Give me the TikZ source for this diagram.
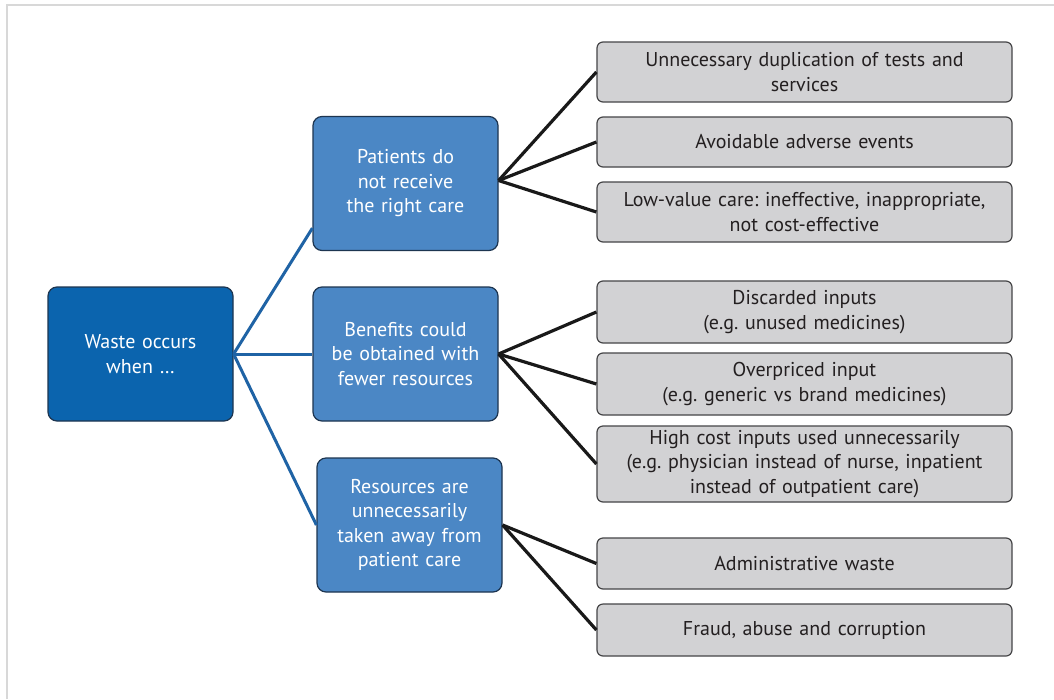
\documentclass[tikz,border=0pt]{standalone}
\usepackage{fontspec}
\setmainfont{PT Sans}
\frenchspacing
\usetikzlibrary{calc}
\definecolor{rootblue}{HTML}{0B64AE}
\definecolor{midblue}{HTML}{4B87C5}
\definecolor{boxedge}{HTML}{1D3550}
\definecolor{leafgray}{HTML}{D2D2D4}
\definecolor{leafedge}{HTML}{454547}
\definecolor{linkblue}{HTML}{1F63A5}
\definecolor{framegray}{HTML}{D8D8D8}
\definecolor{textdark}{HTML}{231F20}
\begin{document}
\begin{tikzpicture}[x=1pt,y=-1pt,
  rootbox/.style={draw=boxedge, line width=1.2pt, fill=rootblue, rounded corners=9pt,
    minimum width=185pt, minimum height=134pt, text width=178pt, align=center,
    text=white, font=\fontsize{20}{24.5}\selectfont, inner sep=0pt},
  midbox/.style={rootbox, fill=midblue},
  leafbox/.style={draw=leafedge, line width=1.2pt, fill=leafgray, rounded corners=6pt,
    minimum width=415pt, text width=405pt, align=center, text=textdark,
    font=\fontsize{20}{24.5}\selectfont, inner sep=0pt},
  rootlink/.style={draw=linkblue, line width=3pt},
  leaflink/.style={draw=black!90, line width=3.2pt}]
\useasboundingbox (0,0) rectangle (1054,699);
\fill[white] (0,0) rectangle (1054,699);
% thin frame along the top and left
\draw[framegray, line width=2pt] (7,699) -- (7,5) -- (1054,5);

% root and its three causes
\node[rootbox] (waste) at (140.5,354) {Waste occurs\\when …};
\node[midbox] (pat) at (405.5,183.5) {Patients do\\not receive\\the right care};
\node[midbox] (ben) at (405.5,354) {Benefits could\\be obtained with\\fewer resources};
\node[midbox] (res) at (409.5,525) {Resources are\\unnecessarily\\taken away from\\patient care};

% leaf boxes
\node[leafbox, minimum height=60pt] (g1) at (804.5,72) {Unnecessary duplication of tests and\\services};
\node[leafbox, minimum height=50pt] (g2) at (804.5,142) {Avoidable adverse events};
\node[leafbox, minimum height=60pt] (g3) at (804.5,212) {Low-value care: ineffective, inappropriate,\\not cost-effective};
\node[leafbox, minimum height=62pt] (g4) at (804.5,312) {Discarded inputs\\(e.g. unused medicines)};
\node[leafbox, minimum height=62pt] (g5) at (804.5,384) {Overpriced input\\(e.g. generic vs brand medicines)};
\node[leafbox, minimum height=76pt] (g6) at (804.5,464) {High cost inputs used unnecessarily\\(e.g. physician instead of nurse, inpatient\\instead of outpatient care)};
\node[leafbox, minimum height=51pt] (g7) at (804.5,563.5) {Administrative waste};
\node[leafbox, minimum height=52pt] (g8) at (804.5,630) {Fraud, abuse and corruption};

% root connectors
\draw[rootlink] (waste.east) -- ([yshift=23pt]pat.south west);
\draw[rootlink] (waste.east) -- (ben.west);
\draw[rootlink] (waste.east) -- (res.west);

% leaf connectors
\coordinate (patout) at ([yshift=3pt]pat.east);
\foreach \g in {g1,g2,g3} \draw[leaflink] (patout) -- (\g.west);
\foreach \g in {g4,g5,g6} \draw[leaflink] (ben.east) -- (\g.west);
\foreach \g in {g7,g8} \draw[leaflink] (res.east) -- (\g.west);
\end{tikzpicture}
\end{document}
